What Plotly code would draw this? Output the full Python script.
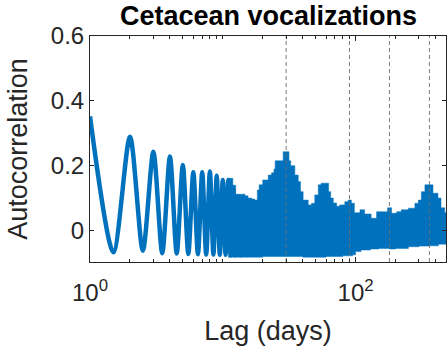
import numpy as np
import plotly.graph_objects as go

# Resolved daily oscillation at short lags: peaks at whole days, troughs at half days
short_lags = [1, 1.5, 2, 2.5, 3, 3.5, 4, 4.5, 5, 5.5, 6, 6.5, 7, 7.5, 8, 8.5,
              9, 9.5, 10, 10.5, 11, 11.5, 12, 12.5, 13, 13.5, 14]
short_acf = [0.352, -0.067, 0.289, -0.062, 0.243, -0.070, 0.228, -0.071, 0.202,
             -0.072, 0.180, -0.073, 0.180, -0.074, 0.182, -0.074, 0.169, -0.075,
             0.156, -0.075, 0.156, -0.076, 0.130, -0.076, 0.105, -0.076, 0.102]

# Envelope of the dense oscillation at longer lags
upper_lags = [11, 11.9, 12.5, 14.7, 15.5, 16.5, 17.4, 18.2, 18.8, 20, 22, 23.3,
              24.3, 24.8, 28, 28.5, 30.5, 31.5, 32.5, 34.9, 37, 38.5, 40.3, 44, 46.6,
              49.3, 52.4, 55, 58.5, 62.7, 65, 68, 72, 76, 83, 88, 93, 98, 108, 117,
              131, 144, 167, 174, 180, 187, 204, 221, 250, 280, 297, 313, 333, 362,
              383, 418, 440, 470, 480]
upper_acf = [0.161, 0.140, 0.112, 0.107, 0.100, 0.097, 0.094, 0.125, 0.141,
             0.156, 0.171, 0.178, 0.190, 0.215, 0.215, 0.243, 0.243, 0.215, 0.200,
             0.171, 0.151, 0.120, 0.094, 0.079, 0.084, 0.110, 0.141, 0.146, 0.146,
             0.120, 0.100, 0.085, 0.075, 0.079, 0.089, 0.094, 0.084, 0.055, 0.064,
             0.051, 0.038, 0.058, 0.058, 0.070, 0.070, 0.053, 0.058, 0.064, 0.069,
             0.084, 0.094, 0.120, 0.141, 0.141, 0.115, 0.100, 0.070, 0.055, 0.048]
lower_lags = [11, 20, 40, 60, 80, 95, 100, 110, 130, 150, 180, 200, 250, 300, 360,
              420, 480]
lower_acf = [-0.082, -0.080, -0.082, -0.080, -0.078, -0.075, -0.065, -0.060, -0.057,
             -0.055, -0.057, -0.055, -0.050, -0.048, -0.047, -0.042, -0.034]

# Reference periods (days): month, quarter, half year, year
period_lags = [30, 90, 180, 360]

x_tick_vals = [1, 100]
x_tick_text = ["10<sup>0</sup>", "10<sup>2</sup>"]
y_tick_vals = [0, 0.2, 0.4, 0.6]
y_tick_text = ["0", "0.2", "0.4", "0.6"]

X_MAX = 480
Y_RANGE = [-0.097, 0.6]
BLUE = "#0072BD"
FONT = "Liberation Sans, Arial, Helvetica, sans-serif"
INK = "#262626"

fig = go.Figure()

# Dense band: lower edge then upper edge filled between
fig.add_trace(go.Scatter(x=lower_lags, y=lower_acf, mode="lines",
                         line=dict(color=BLUE, width=0.5, shape="hv"), hoverinfo="skip",
                         showlegend=False))
fig.add_trace(go.Scatter(x=upper_lags, y=upper_acf, mode="lines",
                         line=dict(color=BLUE, width=0.5, shape="hv"), fill="tonexty",
                         fillcolor=BLUE, hoverinfo="skip", showlegend=False))

# Resolved oscillation
fig.add_trace(go.Scatter(x=short_lags, y=short_acf, mode="lines",
                         line=dict(color=BLUE, width=4.5, shape="spline", smoothing=0.8),
                         showlegend=False))

# Dashed reference periods
for p in period_lags:
    fig.add_trace(go.Scatter(x=[p, p], y=Y_RANGE, mode="lines",
                             line=dict(color="rgba(110,110,110,0.9)", width=1, dash="4px,3px"),
                             hoverinfo="skip", showlegend=False))

# Minor log ticks drawn on an overlaid axis
minor_ticks = [m * 10 ** e for e in range(3) for m in range(1, 10) if m * 10 ** e <= X_MAX]
fig.add_trace(go.Scatter(x=[1, X_MAX], y=[None, None], xaxis="x2", showlegend=False,
                         hoverinfo="skip"))

x_range = [0, np.log10(X_MAX)]
fig.update_layout(
    width=447, height=349,
    margin=dict(l=90, r=1, t=36, b=87),
    plot_bgcolor="white", paper_bgcolor="white",
    font=dict(family=FONT, color=INK),
    xaxis=dict(type="log", range=x_range, tickmode="array", tickvals=x_tick_vals,
               ticktext=x_tick_text, ticks="inside", ticklen=5, tickcolor=INK,
               showline=True, linecolor=INK, linewidth=1, mirror="ticks",
               showgrid=False, zeroline=False, tickfont=dict(size=24),
               ticklabelstandoff=9,
               title=dict(text="Lag (days)", font=dict(size=27), standoff=16)),
    xaxis2=dict(type="log", range=x_range, overlaying="x", anchor="y", side="bottom",
                tickmode="array", tickvals=minor_ticks, ticks="inside", ticklen=3,
                tickcolor=INK, showticklabels=False, showgrid=False, zeroline=False,
                showline=False, mirror="ticks"),
    yaxis=dict(range=Y_RANGE, tickmode="array", tickvals=y_tick_vals, ticktext=y_tick_text,
               ticks="inside", ticklen=4, tickcolor=INK, showline=True, linecolor=INK,
               linewidth=1, mirror="ticks", showgrid=False, zeroline=False,
               tickfont=dict(size=24),
               title=dict(text="Autocorrelation", font=dict(size=27), standoff=15)),
    annotations=[dict(text="<b>Cetacean vocalizations</b>", x=0.5, y=1, xref="paper",
                      yref="paper", xanchor="center", yanchor="bottom", yshift=3,
                      showarrow=False, font=dict(size=27, color="black"))],
)

fig.write_html("out.html")
